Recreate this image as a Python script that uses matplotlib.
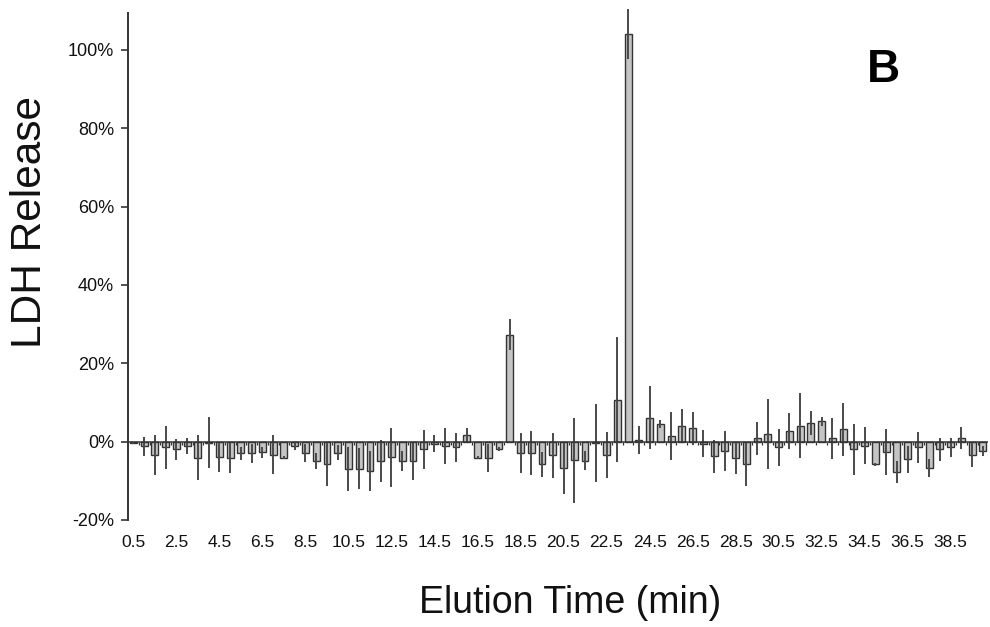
import matplotlib
matplotlib.use("Agg")
import matplotlib.pyplot as plt
import numpy as np

plt.rcParams['font.family'] = ['Liberation Sans', 'DejaVu Sans']

# Elution time (min) for each fraction
times = [0.5, 1.0, 1.5, 2.0, 2.5, 3.0, 3.5, 4.0, 4.5, 5.0,
         5.5, 6.0, 6.5, 7.0, 7.5, 8.0, 8.5, 9.0, 9.5, 10.0,
         10.5, 11.0, 11.5, 12.0, 12.5, 13.0, 13.5, 14.0, 14.5, 15.0,
         15.5, 16.0, 16.5, 17.0, 17.5, 18.0, 18.5, 19.0, 19.5, 20.0,
         20.5, 21.0, 21.5, 22.0, 22.5, 23.0, 23.5, 24.0, 24.5, 25.0,
         25.5, 26.0, 26.5, 27.0, 27.5, 28.0, 28.5, 29.0, 29.5, 30.0,
         30.5, 31.0, 31.5, 32.0, 32.5, 33.0, 33.5, 34.0, 34.5, 35.0,
         35.5, 36.0, 36.5, 37.0, 37.5, 38.0, 38.5, 39.0, 39.5, 40.0]

# LDH release (%)
ldh_release = [-0.3, -1.2, -3.4, -1.4, -2.0, -1.2, -4.1, -0.3, -3.9, -4.1,
               -3.0, -3.0, -2.7, -3.3, -4.1, -1.1, -2.9, -5.0, -5.8, -2.8,
               -6.9, -6.9, -7.5, -5.0, -4.0, -5.0, -5.0, -2.0, -0.5, -1.1,
               -1.4, 1.6, -4.1, -4.1, -1.8, 27.3, -2.9, -2.8, -5.8, -3.5,
               -6.8, -4.8, -4.9, -0.4, -3.5, 10.7, 104.0, 0.4, 6.1, 4.4,
               1.4, 4.1, 3.4, -0.5, -3.8, -2.4, -4.2, -5.8, 0.8, 1.9,
               -1.5, 2.7, 4.1, 4.8, 5.2, 0.8, 3.1, -2.0, -1.0, -5.8,
               -2.6, -7.8, -4.5, -1.5, -6.8, -2.0, -1.5, 1.0, -3.3, -2.4]

# Error (%)
ldh_error = [0.3, 2.5, 5.0, 5.5, 2.6, 2.0, 5.7, 6.5, 3.9, 3.9,
             1.7, 2.5, 1.4, 5.0, 0.3, 1.0, 2.2, 2.0, 5.6, 1.9,
             5.6, 5.3, 5.1, 5.3, 7.5, 2.5, 4.7, 5.0, 2.1, 4.7,
             3.7, 1.8, 0.3, 3.6, 0.5, 4.0, 5.2, 5.6, 3.2, 5.8,
             6.5, 10.8, 2.4, 10.0, 5.9, 16.0, 6.3, 3.5, 8.0, 1.0,
             6.1, 4.2, 4.2, 3.4, 4.2, 5.1, 4.0, 5.6, 4.2, 8.9,
             4.7, 4.5, 8.2, 3.1, 1.2, 5.2, 6.8, 6.5, 4.7, 0.3,
             5.8, 2.8, 3.4, 4.0, 2.3, 3.0, 2.5, 2.8, 3.2, 1.3]

y_ticks = [-20, 0, 20, 40, 60, 80, 100]
x_tick_labels = ['0.5', '2.5', '4.5', '6.5', '8.5', '10.5', '12.5', '14.5', '16.5', '18.5',
                 '20.5', '22.5', '24.5', '26.5', '28.5', '30.5', '32.5', '34.5', '36.5', '38.5']

fig = plt.figure(figsize=(9.9, 6.27), dpi=100)
ax = fig.add_axes([0.1293, 0.1707, 0.869, 0.808])

dark = '#333333'
ax.bar(times, ldh_release, width=0.32, color='#c4c4c4', edgecolor=dark,
       linewidth=1.0, zorder=2,
       yerr=ldh_error, error_kw=dict(ecolor='#4a4a4a', elinewidth=1.4, capsize=0,
                                     zorder=3, clip_on=False))

# zero line with small separator ticks
ax.axhline(0, color=dark, linewidth=1.1, zorder=4)
sep = np.array(times) + 0.25
ax.vlines(sep[:-1], -0.9, 0, color=dark, linewidth=0.9, zorder=1)

ax.set_xlim(0.25, 40.25)
ax.set_ylim(-20, 109.3)

ax.set_yticks(y_ticks)
ax.set_yticklabels([f'{v}%' for v in y_ticks])
ax.set_xticks([float(s) for s in x_tick_labels])
ax.set_xticklabels(x_tick_labels)

for s in ['top', 'right', 'bottom']:
    ax.spines[s].set_visible(False)
ax.spines['left'].set_color(dark)
ax.spines['left'].set_linewidth(1.4)

ax.tick_params(axis='y', direction='out', length=5, width=1.2, color=dark,
               labelsize=13, pad=5, labelcolor='#111111')
ax.tick_params(axis='x', length=0, labelsize=12.5, pad=11, labelcolor='#111111')

fig.text(0.030, 1 - 222 / 627, 'LDH Release', rotation=90, fontsize=30.5,
         ha='center', va='center', color='#111111')
fig.text(570 / 990, 1 - 603 / 627, 'Elution Time (min)', fontsize=27,
         ha='center', va='center', color='#111111')
fig.text(883 / 990, 1 - 70 / 627, 'B', fontsize=33, fontweight='bold',
         ha='center', va='center', color='black')

fig.savefig('out.png', dpi=100)
